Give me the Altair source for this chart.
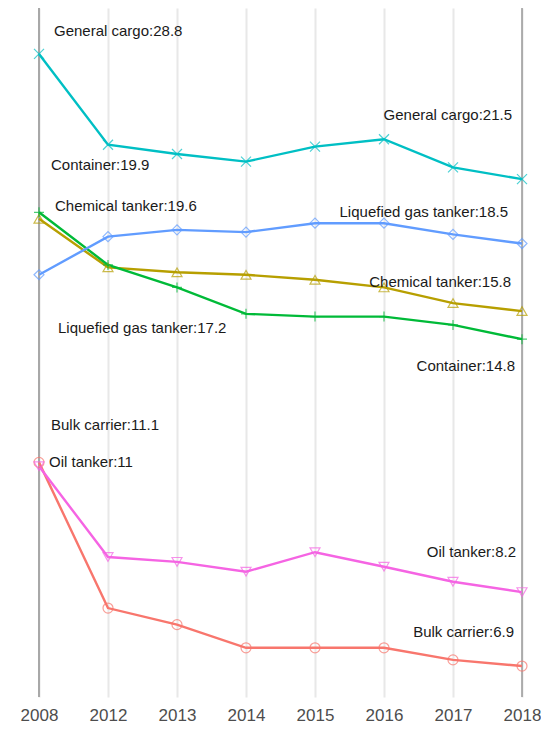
import altair as alt
import pandas as pd

years = ["2008", "2012", "2013", "2014", "2015", "2016", "2017", "2018"]
series = ["Bulk carrier", "Chemical tanker", "Container", "General cargo",
          "Liquefied gas tanker", "Oil tanker"]
bulk_carrier = [11.1, 7.9, 7.6, 7.2, 7.2, 7.2, 7.0, 6.9]
chemical_tanker = [19.6, 17.5, 17.3, 17.2, 17.0, 16.7, 16.1, 15.8]
container = [19.9, 17.6, 16.7, 15.7, 15.6, 15.6, 15.3, 14.8]
general_cargo = [28.8, 23.3, 22.8, 22.4, 23.2, 23.6, 22.1, 21.5]
liquefied_gas_tanker = [17.2, 18.8, 19.1, 19.0, 19.4, 19.4, 18.9, 18.5]
oil_tanker = [11.0, 8.9, 8.8, 8.6, 9.0, 8.7, 8.4, 8.2]

colors = ["#F8766D", "#B79F00", "#00BA38", "#00BFC4", "#619CFF", "#F564E3"]
shapes = ["circle", "triangle-up", "M-1,0L1,0M0,-1L0,1", "M-1,-1L1,1M1,-1L-1,1",
          "diamond", "triangle-down"]

values = [bulk_carrier, chemical_tanker, container, general_cargo,
          liquefied_gas_tanker, oil_tanker]
rows = []
for name, vals in zip(series, values):
    for yr, v in zip(years, vals):
        rows.append({"series": name, "year": yr, "value": v})
df = pd.DataFrame(rows)

# label placement (series index, year, dx, dy, align)
label_style = [
    (3, "2008", 15, -23, "left"),
    (2, "2008", 12, -47, "left"),
    (1, "2008", 16, -13, "left"),
    (4, "2008", 19, 53, "left"),
    (0, "2008", 12, -37, "left"),
    (5, "2008", 10, -4, "left"),
    (3, "2018", -10, -64, "right"),
    (4, "2018", -14, -32, "right"),
    (1, "2018", -11, -29, "right"),
    (2, "2018", -7, 27, "right"),
    (5, "2018", -6, -40, "right"),
    (0, "2018", -8, -34, "right"),
]

xenc = alt.X("year:N", sort=years, title=None,
             scale=alt.Scale(type="point", padding=0, domain=years),
             axis=alt.Axis(labelAngle=0, labelAlign="center", ticks=False,
                           domain=False, grid=True,
                           gridColor="#e8e8e8", gridWidth=2, labelFontSize=17,
                           labelColor="#4d4d4d", labelPadding=18,
                           labelFont="Liberation Sans"))
yscale = alt.Scale(type="log", domain=[6.419, 32.06], nice=False, zero=False)
yenc = alt.Y("value:Q", scale=yscale, axis=None)
cenc = alt.Color("series:N", scale=alt.Scale(domain=series, range=colors), legend=None)
senc = alt.Shape("series:N", scale=alt.Scale(domain=series, range=shapes), legend=None)

base = alt.Chart(df)
lines = base.mark_line(strokeWidth=2.4).encode(x=xenc, y=yenc, color=cenc,
                                                detail="series:N")
points = base.mark_point(filled=False, size=100, strokeWidth=1.2).encode(
    x=xenc, y=yenc, color=cenc, shape=senc)

rule_left = alt.Chart(pd.DataFrame({"year": [years[0]]})).mark_rule(
    color="#a8a8a8", strokeWidth=2).encode(x=alt.X("year:N", sort=years))
rule_right = alt.Chart(pd.DataFrame({"year": [years[-1]]})).mark_rule(
    color="#6e6e6e", strokeWidth=1).encode(x=alt.X("year:N", sort=years))

layers = [rule_left, rule_right, lines, points]
for si, yr, dx, dy, align in label_style:
    v = values[si][years.index(yr)]
    txt = f"{series[si]}:{v:g}"
    ldf = pd.DataFrame({"year": [yr], "value": [v], "label": [txt]})
    layers.append(alt.Chart(ldf).mark_text(
        align=align, baseline="middle", dx=dx, dy=dy, fontSize=15,
        font="Liberation Sans", color="#1a1a1a").encode(
        x=alt.X("year:N", sort=years), y=alt.Y("value:Q", scale=yscale),
        text="label:N"))

chart = alt.layer(*layers).properties(
    width=483, height=689,
    autosize=alt.AutoSizeParams(type="none"),
    padding={"left": 31, "top": 0, "right": 19, "bottom": 30},
).configure_view(stroke=None)

chart.save("out.html", embed_options={"renderer": "svg", "actions": False})
